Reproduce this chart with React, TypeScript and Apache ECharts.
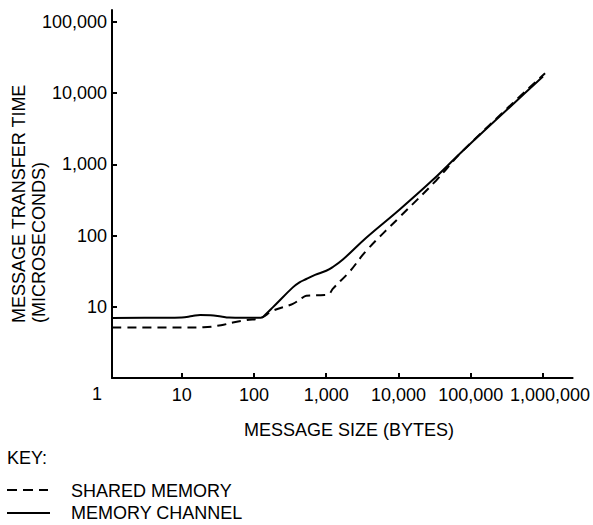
import React, { useEffect, useRef } from "react";
import * as echarts from "echarts";

// Tick values (real units)
const xTickValues = [10, 100, 1000, 10000, 100000, 1000000];
const xLabelValues = [10, 100, 1000, 10000, 100000];
const xLastLabelValues = [1000000];
const yTickValues = [10, 100, 1000, 10000, 100000];

// SHARED MEMORY (dashed): message size (bytes) -> transfer time (microseconds)
const sharedSizes = [1.1, 10, 20, 35, 51, 80, 126, 182, 345, 475, 530, 950, 1100, 1230, 2100, 3580, 10300, 33000, 78000, 1070000];
const sharedTimes = [5.1, 5.1, 5.15, 5.5, 6.0, 6.5, 7.0, 8.8, 11, 13.5, 14.3, 14.6, 15.1, 17.8, 31, 61, 180, 588, 1550, 19000];

// MEMORY CHANNEL (solid)
const channelSizes = [1.1, 5, 10, 14, 18, 25, 35, 45, 70, 125, 148, 182, 345, 427, 530, 700, 1000, 1230, 1700, 3580, 10300, 29700, 78000, 1000000];
const channelTimes = [6.95, 7.0, 7.05, 7.4, 7.65, 7.6, 7.3, 7.05, 7.0, 7.0, 8.0, 9.8, 18.7, 22, 24.5, 28, 32, 36, 46, 93, 230, 600, 1550, 17000];

const FONT_FAMILY = "'Liberation Sans', Arial, Helvetica, sans-serif";
const FONT = `18px ${FONT_FAMILY}`;

const lg = (v: number) => Math.log10(v);
const fmt = (v: number) => Math.round(Math.pow(10, v)).toLocaleString("en-US");

export default function App() {
  const ref = useRef<HTMLDivElement>(null);
  useEffect(() => {
    const chart = echarts.init(ref.current!, null, { renderer: "svg" });
    const labelStyle = {
      formatter: fmt,
      color: "#000",
      fontSize: 18,
      fontFamily: FONT_FAMILY,
    };
    chart.setOption({
      animation: false,
      backgroundColor: "#fff",
      grid: { left: 112, right: 20, top: 10, bottom: 147 },
      xAxis: [
        {
          type: "value",
          position: "bottom",
          min: 0.035,
          max: 6.411,
          splitLine: { show: false },
          axisLine: { onZero: false, lineStyle: { color: "#000", width: 2 } },
          axisTick: {
            inside: true,
            length: 5,
            customValues: xTickValues.map(lg),
            lineStyle: { color: "#000", width: 2 },
          },
          axisLabel: {
            ...labelStyle,
            customValues: xLabelValues.map(lg),
            margin: 8,
          },
        },
        {
          type: "value",
          position: "bottom",
          min: 0.035,
          max: 6.411,
          splitLine: { show: false },
          axisLine: { show: false, onZero: false },
          axisTick: { show: false },
          axisLabel: {
            ...labelStyle,
            customValues: xLastLabelValues.map(lg),
            margin: 8,
            padding: [0, 0, 0, 14],
          },
        },
      ],
      yAxis: {
        type: "value",
        min: 0,
        max: 5.165,
        splitLine: { show: false },
        axisLine: { onZero: false, lineStyle: { color: "#000", width: 2 } },
        axisTick: {
          inside: true,
          length: 5,
          customValues: yTickValues.map(lg),
          lineStyle: { color: "#000", width: 2 },
        },
        axisLabel: {
          ...labelStyle,
          customValues: yTickValues.map(lg),
          margin: 5,
        },
      },
      series: [
        {
          name: "SHARED MEMORY",
          type: "line",
          showSymbol: false,
          smooth: 0.4,
          data: sharedSizes.map((s, i) => [lg(s), lg(sharedTimes[i])]),
          lineStyle: { color: "#000", width: 2, type: [9, 6] },
        },
        {
          name: "MEMORY CHANNEL",
          type: "line",
          showSymbol: false,
          smooth: 0.4,
          data: channelSizes.map((s, i) => [lg(s), lg(channelTimes[i])]),
          lineStyle: { color: "#000", width: 2 },
        },
      ],
      graphic: [
        {
          type: "text",
          x: 97,
          y: 394,
          style: { text: "1", font: FONT, fill: "#000", align: "center", verticalAlign: "middle" },
        },
        {
          type: "text",
          x: 349,
          y: 430,
          style: { text: "MESSAGE SIZE (BYTES)", font: FONT, fill: "#000", align: "center", verticalAlign: "middle" },
        },
        {
          type: "text",
          x: 9,
          y: 323,
          rotation: Math.PI / 2,
          style: {
            text: "MESSAGE TRANSFER TIME\n(MICROSECONDS)",
            font: FONT,
            lineHeight: 20,
            fill: "#000",
            align: "left",
            verticalAlign: "top",
          },
        },
        {
          type: "text",
          x: 7,
          y: 458,
          style: { text: "KEY:", font: FONT, fill: "#000", align: "left", verticalAlign: "middle" },
        },
        {
          type: "line",
          shape: { x1: 7, y1: 490, x2: 48, y2: 490 },
          style: { stroke: "#000", lineWidth: 2, lineDash: [10, 6] },
        },
        {
          type: "text",
          x: 71,
          y: 491,
          style: { text: "SHARED MEMORY", font: FONT, fill: "#000", align: "left", verticalAlign: "middle" },
        },
        {
          type: "line",
          shape: { x1: 7, y1: 513, x2: 50, y2: 513 },
          style: { stroke: "#000", lineWidth: 2 },
        },
        {
          type: "text",
          x: 71,
          y: 513,
          style: { text: "MEMORY CHANNEL", font: FONT, fill: "#000", align: "left", verticalAlign: "middle" },
        },
      ],
    });
    return () => chart.dispose();
  }, []);
  return (
    <div
      ref={ref}
      style={{ position: "absolute", left: 0, top: 0, width: 593, height: 525 }}
    />
  );
}
